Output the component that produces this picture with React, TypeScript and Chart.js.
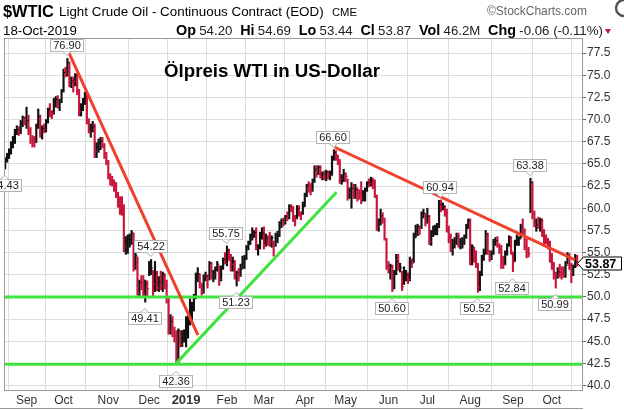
import React, { useEffect, useRef } from "react";
import { Chart, registerables } from "chart.js";

Chart.register(...registerables);

const FONT = "Arial, 'Liberation Sans', Helvetica, sans-serif";

// ---- axis labels ----
const monthLabels = ["Sep", "Oct", "Nov", "Dec", "2019", "Feb", "Mar", "Apr", "May", "Jun", "Jul", "Aug", "Sep", "Oct"];
const monthStarts = [11, 30, 53, 74, 93, 114, 133, 154, 175, 197, 217, 239, 261, 281];
const yTicks = [40, 42.5, 45, 47.5, 50, 52.5, 55, 57.5, 60, 62.5, 65, 67.5, 70, 72.5, 75, 77.5];

// ---- daily bars (trading days, Aug 2018 .. 18 Oct 2019) ----
const closes = [
  65.46, 65.91, 66.43, 67.35, 67.86, 68.72, 68.87, 68.53, 69.51, 70.25, 69.80,
  69.87, 68.72, 67.77, 67.75, 67.54, 69.25, 70.37, 68.59, 68.99, 68.91, 69.85, 71.12, 70.80, 70.78, 72.08, 72.28, 71.57, 72.12, 73.25,
  75.30, 75.23, 76.41, 74.33, 74.34, 74.29, 74.96, 73.17, 70.97, 71.34, 71.78, 72.92, 69.75, 68.65, 69.12, 69.17, 66.43, 66.82, 67.33, 67.59, 67.04, 66.18, 65.31,
  63.69, 63.14, 63.10, 62.21, 61.67, 60.67, 60.19, 59.93, 55.69, 56.25, 56.46, 56.46, 57.20, 53.43, 54.63, 50.42, 51.63, 51.56, 50.29, 51.45, 50.93,
  52.95, 53.25, 51.49, 52.61, 51.00, 51.65, 51.15, 52.58, 51.20, 49.88, 46.24, 47.20, 45.88, 45.59, 42.53, 46.22, 44.61, 45.33, 45.41,
  46.54, 47.09, 47.96, 48.52, 49.78, 52.36, 52.59, 51.59, 50.51, 52.11, 52.31, 52.07, 53.80, 52.57, 52.62, 53.13, 53.69, 51.99, 53.31, 54.23, 53.79,
  55.26, 54.56, 53.66, 54.01, 52.64, 52.72, 52.41, 53.10, 53.90, 54.41, 55.59, 56.09, 56.92, 57.26, 57.26, 55.48, 55.50, 56.94, 57.22,
  55.80, 56.59, 56.56, 56.22, 56.66, 56.07, 56.79, 56.87, 58.26, 58.61, 58.52, 59.09, 59.03, 60.23, 59.98, 59.04, 58.82, 59.94, 59.41, 59.30, 60.14,
  61.59, 62.58, 62.46, 62.10, 63.08, 64.40, 64.05, 64.61, 63.58, 63.89, 63.40, 64.05, 63.76, 64.00, 65.70, 66.30, 65.89, 65.21, 63.30, 63.50, 63.91,
  63.60, 61.81, 61.94, 62.25, 61.40, 62.12, 61.70, 61.66, 61.04, 61.78, 62.02, 62.87, 62.76, 63.10, 62.99, 61.42, 57.91, 58.63, 59.14, 58.81, 56.59, 53.50,
  53.25, 53.48, 51.68, 52.59, 53.99, 53.26, 53.27, 51.14, 52.28, 52.51, 51.93, 53.90, 53.76, 56.65, 57.43, 57.90, 57.83, 59.38, 59.43, 58.47,
  59.09, 56.25, 57.34, 57.51, 57.66, 57.83, 60.43, 60.20, 60.21, 59.58, 57.62, 56.78, 55.30, 55.63, 56.22, 56.77, 55.88, 56.02, 56.20, 56.87, 58.05, 58.58,
  53.95, 55.66, 54.69, 53.63, 51.09, 52.54, 54.50, 54.93, 57.10, 55.23, 54.47, 54.87, 56.21, 56.34, 55.68, 55.35, 54.17, 53.64, 54.93, 55.78, 56.71, 55.10,
  53.94, 56.26, 56.30, 56.52, 57.85, 57.40, 55.75, 55.09, 54.85, 62.90, 59.34, 58.11, 58.13, 58.09, 58.64, 57.29, 56.49, 56.41, 55.91, 54.07,
  53.62, 52.64, 52.45, 52.81, 52.75, 52.63, 52.59, 53.55, 54.70, 53.59, 52.81, 53.36, 53.93, 53.87,
];

const highs = [
  65.70, 66.20, 66.70, 67.50, 68.10, 68.90, 69.30, 69.20, 69.90, 70.40, 70.30,
  71.40, 70.50, 69.10, 68.20, 68.10, 69.50, 71.20, 70.50, 69.30, 69.50, 70.00, 71.30, 71.80, 71.00, 72.40, 72.60, 72.70, 72.30, 73.40,
  75.70, 75.90, 76.90, 76.50, 74.80, 74.80, 75.20, 75.20, 73.40, 71.80, 72.40, 73.10, 72.90, 70.10, 69.50, 69.80, 69.50, 67.40, 67.80, 68.00, 68.00, 67.30, 66.30,
  65.40, 63.90, 63.60, 63.20, 62.90, 61.80, 61.30, 61.30, 60.40, 56.80, 57.00, 57.10, 57.50, 57.20, 55.00, 54.50, 51.90, 52.40, 52.40, 51.90, 51.80,
  54.00, 54.22, 53.00, 54.00, 52.90, 52.30, 52.90, 52.80, 52.60, 51.90, 50.00, 48.00, 47.80, 46.60, 46.20, 46.40, 46.20, 46.20, 46.30,
  47.78, 47.90, 49.79, 49.40, 50.30, 52.70, 53.30, 52.60, 51.50, 52.50, 52.80, 52.50, 54.00, 53.90, 53.00, 53.40, 54.00, 53.50, 53.50, 54.40, 55.00,
  55.75, 55.40, 54.80, 54.50, 54.10, 52.90, 53.20, 53.70, 54.60, 54.70, 55.80, 56.30, 57.10, 57.80, 57.50, 57.80, 55.90, 57.30, 57.80,
  57.90, 57.10, 56.90, 57.30, 56.90, 56.30, 57.20, 57.40, 58.50, 58.80, 58.90, 59.20, 59.60, 60.40, 60.40, 60.20, 59.20, 60.30, 60.30, 59.60, 60.70,
  61.70, 62.70, 63.00, 62.80, 63.30, 64.80, 64.80, 64.80, 64.80, 64.10, 64.20, 64.30, 64.20, 64.20, 65.90, 66.60, 66.50, 66.00, 65.50, 63.80, 64.40,
  64.00, 63.30, 62.30, 62.90, 62.70, 62.70, 62.30, 62.10, 63.00, 62.00, 62.30, 63.00, 63.30, 63.50, 63.40, 63.20, 61.50, 58.80, 59.90, 59.50, 58.90, 56.60,
  54.00, 53.70, 53.60, 53.00, 54.80, 54.80, 53.80, 52.90, 53.40, 53.00, 52.70, 54.50, 54.30, 57.20, 58.10, 58.20, 58.00, 59.60, 59.90, 59.40,
  60.00, 59.20, 57.50, 58.00, 58.10, 58.30, 60.90, 60.94, 60.60, 60.30, 59.90, 58.00, 57.10, 56.50, 56.70, 57.20, 57.20, 56.60, 56.70, 57.00, 58.20, 58.80,
  58.80, 55.90, 55.60, 55.20, 53.80, 52.90, 54.70, 55.40, 57.50, 57.20, 55.20, 55.20, 56.50, 56.70, 56.80, 56.00, 55.80, 54.60, 55.20, 56.00, 56.90, 56.80,
  55.00, 56.40, 57.00, 56.80, 58.20, 58.80, 57.70, 56.50, 55.60, 63.38, 63.00, 59.70, 58.80, 59.00, 58.90, 58.80, 57.60, 57.00, 56.60, 56.30,
  54.90, 53.90, 52.80, 53.30, 53.70, 53.40, 53.40, 54.00, 55.00, 54.90, 53.80, 53.60, 54.80, 54.69,
];

const lows = [
  64.43, 65.20, 65.60, 66.10, 66.80, 67.30, 68.30, 68.20, 68.40, 69.20, 69.40,
  69.00, 68.30, 67.30, 66.90, 66.90, 67.40, 69.00, 68.00, 67.80, 68.50, 68.60, 69.60, 70.30, 70.10, 70.60, 71.40, 71.30, 71.00, 71.90,
  73.10, 74.80, 74.90, 73.70, 73.60, 73.10, 73.80, 72.80, 70.40, 70.40, 71.00, 71.70, 69.50, 68.50, 68.00, 68.60, 65.70, 65.70, 66.30, 66.60, 66.80, 65.60, 64.90,
  63.30, 62.60, 62.50, 61.90, 61.20, 60.10, 59.30, 59.20, 55.10, 54.80, 54.90, 55.60, 55.90, 52.90, 53.10, 50.20, 50.10, 50.80, 50.00, 49.41, 50.10,
  52.40, 52.50, 50.10, 50.60, 50.70, 50.60, 50.80, 50.60, 50.90, 49.30, 45.80, 45.80, 45.50, 44.90, 42.36, 42.40, 44.35, 44.40, 44.90,
  44.35, 45.35, 46.82, 47.30, 48.40, 49.80, 51.70, 51.00, 50.20, 50.40, 51.80, 51.00, 51.90, 52.00, 51.70, 52.00, 52.90, 51.30, 51.80, 53.10, 53.70,
  53.50, 54.10, 52.90, 52.90, 52.00, 51.23, 51.80, 52.30, 53.20, 53.20, 54.20, 55.30, 55.90, 56.40, 56.70, 55.30, 54.70, 55.40, 56.50,
  55.40, 55.70, 55.80, 55.70, 55.60, 54.60, 55.70, 56.10, 56.80, 57.80, 58.00, 58.20, 58.60, 58.80, 59.60, 58.50, 58.00, 58.80, 59.10, 58.70, 59.30,
  60.20, 61.30, 61.80, 61.50, 61.90, 62.90, 63.50, 63.80, 63.40, 63.20, 63.20, 63.10, 63.30, 63.20, 63.70, 65.40, 65.40, 64.90, 62.80, 62.70, 63.00,
  63.00, 60.90, 61.10, 60.00, 61.10, 61.10, 60.80, 61.00, 60.50, 60.80, 60.80, 61.90, 62.40, 62.50, 62.20, 61.20, 57.50, 57.40, 58.10, 58.30, 56.40, 53.10,
  52.70, 52.00, 50.60, 50.90, 52.50, 53.00, 52.80, 50.72, 51.40, 51.80, 51.50, 51.80, 53.30, 53.90, 56.70, 56.90, 57.00, 57.70, 58.90, 58.00,
  58.30, 55.90, 55.80, 56.80, 57.00, 57.00, 57.80, 59.60, 59.80, 59.10, 57.30, 56.10, 55.10, 54.70, 55.50, 55.90, 55.60, 55.40, 55.50, 55.90, 56.60, 57.70,
  53.60, 53.60, 53.90, 53.30, 50.52, 50.70, 52.40, 54.10, 54.80, 54.80, 54.00, 54.20, 54.80, 55.80, 55.60, 54.90, 53.20, 53.20, 53.60, 54.70, 55.70, 54.80,
  52.84, 54.00, 55.80, 55.80, 56.60, 57.10, 55.30, 54.40, 54.50, 59.50, 58.80, 57.90, 57.40, 57.70, 57.40, 56.80, 55.70, 56.00, 55.40, 53.90,
  53.10, 52.00, 50.99, 52.10, 52.20, 52.00, 52.20, 52.20, 53.70, 53.10, 51.60, 52.40, 53.30, 53.44,
];

// ---- annotated swing points ----
const labelIdx = [0, 32, 75, 72, 88, 114, 119, 169, 199, 224, 243, 261, 270, 283];
const labelVal = [64.43, 76.9, 54.22, 49.41, 42.36, 55.75, 51.23, 66.6, 50.6, 60.94, 50.52, 52.84, 63.38, 50.99];
const labelAbove = [false, true, true, false, false, true, false, true, false, true, false, false, true, false];

// ---- trend lines (index, price) ----
const red1X = [32.5, 99.1];
const red1Y = [77.65, 45.7];
const red2X = [169.4, 292.9];
const red2Y = [66.88, 54.17];
const greenX = [88, 170.3];
const greenY = [42.53, 61.8];
const supportLevels = [50.0, 42.4];

const lastClose = 53.87;

// ---- header text ----
const titleText = "Ölpreis WTI in US-Dollar";
const symbolText = "$WTIC";
const nameText = "Light Crude Oil - Continuous Contract (EOD)";
const exchText = "CME";
const brandText = "©StockCharts.com";
const dateText = "18-Oct-2019";
const quoteParts: [string, boolean][] = [
  ["Op", true], ["54.20", false], ["Hi", true], ["54.69", false], ["Lo", true], ["53.44", false],
  ["Cl", true], ["53.87", false], ["Vol", true], ["46.2M", false], ["Chg", true], ["-0.06 (-0.11%)", false],
];

const UP = "#111111";
const DOWN = "#c8163c";

function fitText(ctx: CanvasRenderingContext2D, text: string, x: number, y: number, width: number, weight: string) {
  ctx.font = `${weight} 20px ${FONT}`;
  const w = ctx.measureText(text).width;
  const size = (20 * width) / w;
  ctx.font = `${weight} ${size}px ${FONT}`;
  ctx.fillText(text, x, y);
}

const overlayPlugin = {
  id: "overlay",
  afterDatasetsDraw(chart: any) {
    const { ctx, scales, chartArea } = chart;
    const x = scales.x;
    const y = scales.y;
    ctx.save();
    // frame
    ctx.strokeStyle = "#9a9a9a";
    ctx.lineWidth = 1;
    ctx.strokeRect(Math.round(chartArea.left) + 0.5, Math.round(chartArea.top) + 0.5,
      Math.round(chartArea.right - chartArea.left) - 1, Math.round(chartArea.bottom - chartArea.top));
    ctx.beginPath();
    ctx.moveTo(0, 408.5);
    ctx.lineTo(chartArea.right, 408.5);
    ctx.stroke();

    // price labels
    ctx.font = `11px ${FONT}`;
    ctx.textBaseline = "middle";
    ctx.textAlign = "center";
    labelIdx.forEach((idx, k) => {
      const px = x.getPixelForValue(idx);
      const py = y.getPixelForValue(labelVal[k]);
      const text = labelVal[k].toFixed(2);
      const w = Math.round(ctx.measureText(text).width + 5);
      const h = 12;
      const cx = px - 1;
      const above = labelAbove[k];
      const top = Math.round(above ? py - 7 - h : py + 10) + 0.5;
      const left = Math.round(cx - w / 2) + 0.5;
      ctx.fillStyle = "#ffffff";
      ctx.strokeStyle = "#b4b4b4";
      ctx.fillRect(left, top, w, h);
      ctx.strokeRect(left, top, w, h);
      ctx.beginPath();
      if (above) {
        ctx.moveTo(cx - 4, top + h);
        ctx.lineTo(px, top + h + 4);
        ctx.lineTo(cx + 4, top + h);
      } else {
        ctx.moveTo(cx - 4, top);
        ctx.lineTo(px, top - 4);
        ctx.lineTo(cx + 4, top);
      }
      ctx.fill();
      ctx.stroke();
      ctx.fillStyle = "#222";
      ctx.fillText(text, left + w / 2, top + h / 2 + 0.5);
    });
    ctx.restore();
  },
  afterDraw(chart: any) {
    const { ctx, scales } = chart;
    const y = scales.y;
    ctx.save();
    ctx.textBaseline = "alphabetic";
    ctx.textAlign = "left";
    ctx.fillStyle = "#000";
    fitText(ctx, symbolText, 3, 17, 51, "bold");
    fitText(ctx, nameText, 59, 16, 265, "normal");
    fitText(ctx, exchText, 332, 16, 25, "normal");
    ctx.fillStyle = "#666";
    fitText(ctx, brandText, 487, 15, 100, "normal");
    // logo hint
    ctx.strokeStyle = "#555";
    ctx.lineWidth = 2.5;
    ctx.beginPath();
    ctx.arc(624, 8, 8, Math.PI * 0.5, Math.PI * 1.5);
    ctx.stroke();

    ctx.fillStyle = "#000";
    fitText(ctx, dateText, 3, 35, 74, "normal");

    // quote row
    const startX = 176;
    const endX = 603;
    const widths: number[] = [];
    quoteParts.forEach(([t, b]) => {
      ctx.font = b ? `bold 13px ${FONT}` : `12px ${FONT}`;
      widths.push(ctx.measureText(t).width);
    });
    const gapAfterLabel = 3;
    const gapAfterValue = 7;
    let total = 0;
    quoteParts.forEach(([, b], i) => {
      total += widths[i];
      if (i < quoteParts.length - 1) total += b ? gapAfterLabel : gapAfterValue;
    });
    const s = (endX - startX) / total;
    let cx = startX;
    quoteParts.forEach(([t, b], i) => {
      ctx.font = b ? `bold ${13 * s}px ${FONT}` : `${12 * s}px ${FONT}`;
      ctx.fillStyle = b ? "#000" : "#222";
      ctx.fillText(t, cx, 35);
      cx += widths[i] * s + (b ? gapAfterLabel : gapAfterValue) * s;
    });
    ctx.fillStyle = "#c8163c";
    ctx.beginPath();
    ctx.moveTo(605, 29);
    ctx.lineTo(611, 29);
    ctx.lineTo(608, 34);
    ctx.closePath();
    ctx.fill();

    // title
    ctx.fillStyle = "#000";
    fitText(ctx, titleText, 164, 77, 216, "bold");

    // last price tag
    const py = Math.round(y.getPixelForValue(lastClose)) + 0.5;
    ctx.beginPath();
    ctx.moveTo(577.5, py);
    ctx.lineTo(583.5, py - 6.5);
    ctx.lineTo(621.5, py - 6.5);
    ctx.lineTo(621.5, py + 6.5);
    ctx.lineTo(583.5, py + 6.5);
    ctx.closePath();
    ctx.fillStyle = "#fff";
    ctx.fill();
    ctx.strokeStyle = "#000";
    ctx.lineWidth = 1;
    ctx.stroke();
    ctx.fillStyle = "#000";
    ctx.font = `bold 12.5px ${FONT}`;
    ctx.textBaseline = "middle";
    ctx.fillText(lastClose.toFixed(2), 585, py + 1);
    ctx.restore();
  },
};

export default function App() {
  const ref = useRef<HTMLCanvasElement | null>(null);

  useEffect(() => {
    document.body.style.margin = "0";
    const canvas = ref.current;
    if (!canvas) return;

    const colors = closes.map((c, i) => (i === 0 || c >= closes[i - 1] ? UP : DOWN));
    const seg = (xs: number[], ys: number[]) => xs.map((xv, i) => ({ x: xv, y: ys[i] }));

    const chart = new Chart(canvas, {
      type: "bar",
      data: {
        datasets: [
          {
            type: "line",
            data: seg(red1X, red1Y),
            borderColor: "#f0402c",
            borderWidth: 3,
            pointRadius: 0,
            order: 0,
          } as any,
          {
            type: "line",
            data: seg(red2X, red2Y),
            borderColor: "#f0402c",
            borderWidth: 3,
            pointRadius: 0,
            order: 0,
          } as any,
          {
            type: "line",
            data: seg(greenX, greenY),
            borderColor: "#3fe23f",
            borderWidth: 3,
            pointRadius: 0,
            order: 0,
          } as any,
          ...supportLevels.map((lv) => ({
            type: "line",
            data: [{ x: -1, y: lv }, { x: 300, y: lv }],
            borderColor: "#3fe23f",
            borderWidth: 3,
            pointRadius: 0,
            order: 0,
          })) as any[],
          {
            type: "scatter",
            data: closes.map((c, i) => ({ x: i + 0.55, y: c })),
            pointStyle: "line",
            pointRadius: 1,
            pointHoverRadius: 1,
            borderWidth: 1,
            pointBorderColor: colors,
            pointBackgroundColor: colors,
            order: 1,
          } as any,
          {
            type: "bar",
            data: highs.map((h, i) => ({ x: i, y: [lows[i], h] })),
            backgroundColor: colors,
            borderWidth: 0,
            barThickness: 1.5,
            order: 2,
          } as any,
        ],
      },
      options: {
        responsive: false,
        maintainAspectRatio: false,
        devicePixelRatio: 1,
        animation: false,
        events: [],
        layout: { padding: { left: 4, top: 38, right: 0, bottom: 0 } },
        plugins: { legend: { display: false }, tooltip: { enabled: false }, title: { display: false } },
        scales: {
          x: {
            type: "linear",
            min: -0.6,
            max: 297,
            offset: false,
            afterBuildTicks: (s: any) => {
              s.ticks = monthStarts.map((v) => ({ value: v }));
            },
            afterFit: (s: any) => {
              s.height = 20;
            },
            grid: { color: "#dcdcdc", drawTicks: false, lineWidth: 1 },
            border: { display: false },
            ticks: {
              autoSkip: false,
              maxRotation: 0,
              padding: 3,
              color: "#333",
              font: (ctx: any) => ({ family: FONT, size: ctx.index === 4 ? 13 : 12, weight: ctx.index === 4 ? "bold" : "normal" }),
              callback: (_v: any, i: number) => monthLabels[i],
            },
          },
          y: {
            type: "linear",
            position: "right",
            min: 39.5,
            max: 79.2,
            afterBuildTicks: (s: any) => {
              s.ticks = yTicks.map((v) => ({ value: v }));
            },
            afterFit: (s: any) => {
              s.width = 41;
            },
            grid: { color: "#dcdcdc", drawTicks: true, tickLength: 3, tickColor: "#666", lineWidth: 1 },
            border: { display: false },
            ticks: {
              padding: 1,
              color: "#333",
              font: { family: FONT, size: 12 },
              callback: (v: any) => Number(v).toFixed(1),
            },
          },
        },
      },
      plugins: [overlayPlugin],
    });

    return () => chart.destroy();
  }, []);

  return <canvas ref={ref} width={624} height={410} style={{ display: "block" }} />;
}
